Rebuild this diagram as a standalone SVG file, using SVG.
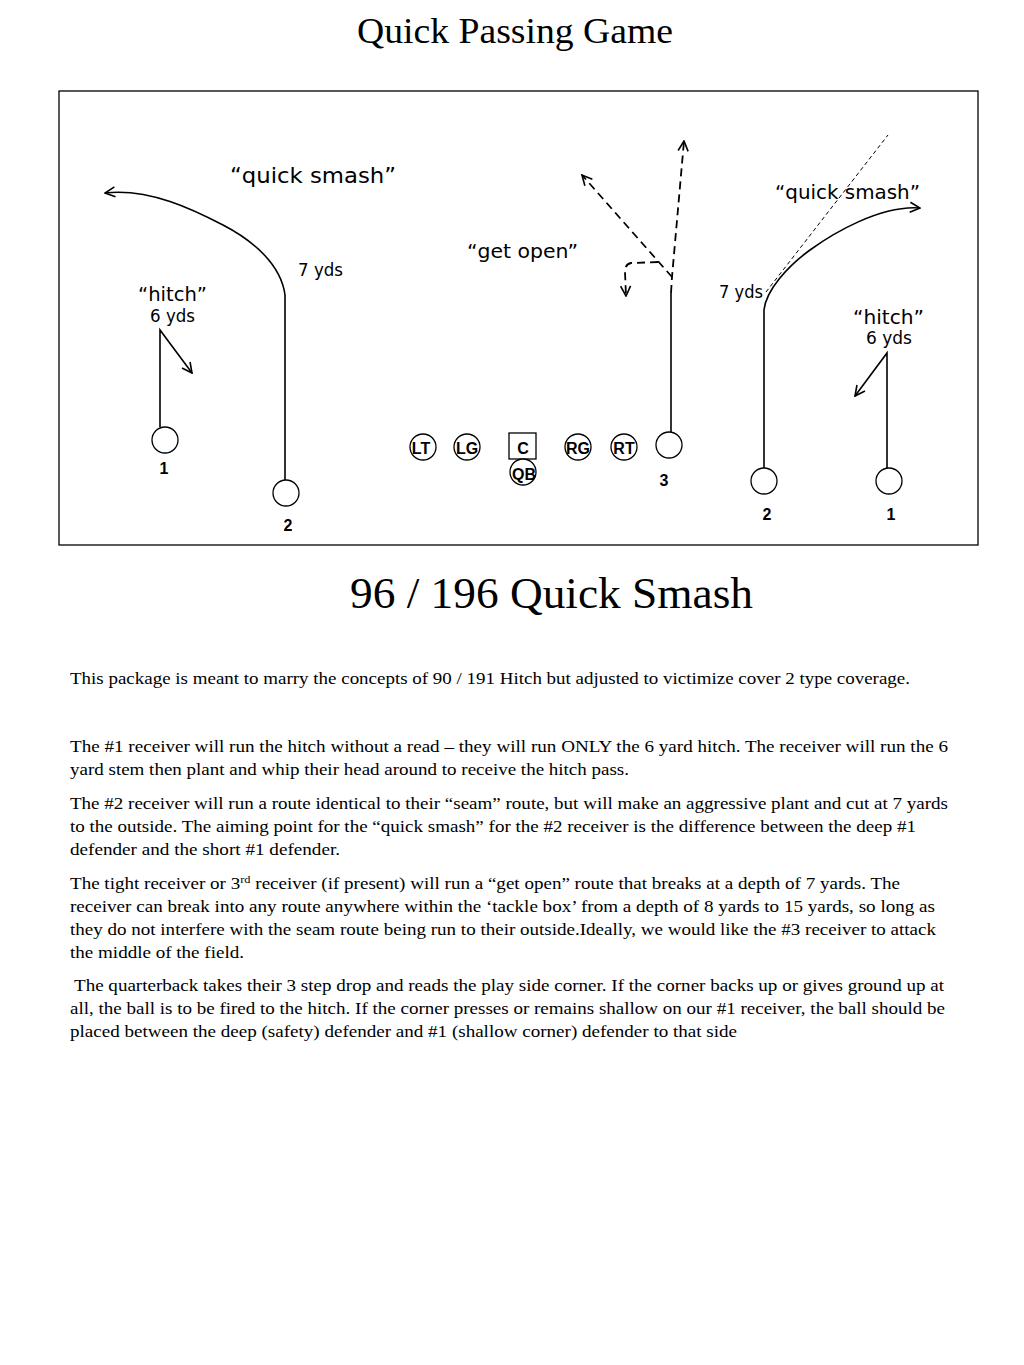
<svg xmlns="http://www.w3.org/2000/svg" width="1024" height="1365" viewBox="0 0 1024 1365">
<style>
.bg{fill:#fff}
.title{font-family:"Liberation Serif","Times New Roman",serif;fill:#000}
.body{font-family:"Liberation Serif","Times New Roman",serif;font-size:17px;fill:#000}
.lbl{font-family:"DejaVu Sans",Verdana,sans-serif;fill:#000}
.num{font-family:"Liberation Sans",Arial,sans-serif;font-weight:bold;font-size:16px;fill:#000;text-anchor:middle}
.pos{font-family:"Liberation Sans",Arial,sans-serif;font-weight:bold;font-size:16px;fill:#000;text-anchor:middle}
.pl{fill:#fff;stroke:#000;stroke-width:1.3}
.rt{fill:none;stroke:#000;stroke-width:1.6}
.ds{fill:none;stroke:#000;stroke-width:1.8;stroke-dasharray:8 5}
.dt{fill:none;stroke:#000;stroke-width:1;stroke-dasharray:4 3}
</style>
<defs>
<marker id="ah" viewBox="0 0 12 12" refX="11" refY="6" markerWidth="12" markerHeight="12" markerUnits="userSpaceOnUse" orient="auto">
<path d="M1,1 L11,6 L1,11" fill="none" stroke="#000" stroke-width="1.6"/>
</marker>
</defs>
<rect class="bg" x="0" y="0" width="1024" height="1365"/>
<text class="title" x="357" y="43" font-size="36" textLength="316" lengthAdjust="spacingAndGlyphs">Quick Passing Game</text>
<rect x="59" y="91" width="919" height="454" fill="none" stroke="#000" stroke-width="1.3"/>

<g id="labels">
<text class="lbl" x="230" y="183" font-size="22" textLength="166" lengthAdjust="spacingAndGlyphs">“quick smash”</text>
<text class="lbl" x="298" y="276" font-size="17" textLength="45" lengthAdjust="spacingAndGlyphs">7 yds</text>
<text class="lbl" x="138" y="301" font-size="20" textLength="69" lengthAdjust="spacingAndGlyphs">“hitch”</text>
<text class="lbl" x="150" y="322" font-size="17" textLength="45" lengthAdjust="spacingAndGlyphs">6 yds</text>
<text class="lbl" x="467" y="258" font-size="20" textLength="111" lengthAdjust="spacingAndGlyphs">“get open”</text>
<text class="lbl" x="775" y="199" font-size="20" textLength="145" lengthAdjust="spacingAndGlyphs">“quick smash”</text>
<text class="lbl" x="719" y="298" font-size="17" textLength="44" lengthAdjust="spacingAndGlyphs">7 yds</text>
<text class="lbl" x="853" y="324" font-size="20" textLength="71" lengthAdjust="spacingAndGlyphs">“hitch”</text>
<text class="lbl" x="866" y="344" font-size="17" textLength="46" lengthAdjust="spacingAndGlyphs">6 yds</text>
</g>

<g id="connectors">
<path class="rt" d="M160,427 L160,330 L192,373" marker-end="url(#ah)"/>
<path class="rt" d="M285,480 L285,295 C281,264 252,240 223,225 S150,188 105,193" marker-end="url(#ah)"/>
<path class="rt" d="M671,432 L671,293"/>
<path class="ds" d="M671,293 L672,277 L684,141" marker-end="url(#ah)"/>
<path class="ds" d="M672,277 L582,175" marker-end="url(#ah)"/>
<path class="ds" d="M658,262 L631,263 Q625,264 625,272 L626,296" marker-end="url(#ah)"/>
<path class="rt" d="M764,468 L764,310 C766,290 788,266 810,250 S880,205 920,208" marker-end="url(#ah)"/>
<path class="dt" d="M766,292 L888,135"/>
<path class="rt" d="M887,468 L887,353 L855,396" marker-end="url(#ah)"/>
</g>

<g id="wr1-left"><circle class="pl" cx="165" cy="440" r="13"/><text class="num" x="164" y="474">1</text></g>
<g id="wr2-left"><circle class="pl" cx="286" cy="493" r="13"/><text class="num" x="288" y="531">2</text></g>
<g id="lt"><circle class="pl" cx="423" cy="447" r="13"/><text class="pos" x="421" y="454">LT</text></g>
<g id="lg"><circle class="pl" cx="467" cy="447" r="13"/><text class="pos" x="467" y="454">LG</text></g>
<g id="c"><rect class="pl" x="509" y="433" width="27" height="26"/><text class="pos" x="523" y="454">C</text></g>
<g id="qb"><circle class="pl" cx="523" cy="472" r="13"/><text class="pos" x="524" y="480">QB</text></g>
<g id="rg"><circle class="pl" cx="578" cy="447" r="13"/><text class="pos" x="578" y="454">RG</text></g>
<g id="rt"><circle class="pl" cx="624" cy="447" r="13"/><text class="pos" x="624" y="454">RT</text></g>
<g id="wr3"><circle class="pl" cx="669" cy="445" r="13"/><text class="num" x="664" y="486">3</text></g>
<g id="wr2-right"><circle class="pl" cx="764" cy="481" r="13"/><text class="num" x="767" y="520">2</text></g>
<g id="wr1-right"><circle class="pl" cx="889" cy="481" r="13"/><text class="num" x="891" y="520">1</text></g>

<text class="title" x="350" y="608" font-size="44" textLength="403" lengthAdjust="spacingAndGlyphs">96 / 196 Quick Smash</text>

<g id="text">
<text class="body" x="70" y="684" textLength="840" lengthAdjust="spacingAndGlyphs">This package is meant to marry the concepts of 90 / 191 Hitch but adjusted to victimize cover 2 type coverage.</text>
<text class="body" x="70" y="752" textLength="878" lengthAdjust="spacingAndGlyphs">The #1 receiver will run the hitch without a read – they will run ONLY the 6 yard hitch. The receiver will run the 6</text>
<text class="body" x="70" y="775" textLength="559" lengthAdjust="spacingAndGlyphs">yard stem then plant and whip their head around to receive the hitch pass.</text>
<text class="body" x="70" y="809" textLength="878" lengthAdjust="spacingAndGlyphs">The #2 receiver will run a route identical to their “seam” route, but will make an aggressive plant and cut at 7 yards</text>
<text class="body" x="70" y="832" textLength="846" lengthAdjust="spacingAndGlyphs">to the outside. The aiming point for the “quick smash” for the #2 receiver is the difference between the deep #1</text>
<text class="body" x="70" y="855" textLength="270" lengthAdjust="spacingAndGlyphs">defender and the short #1 defender.</text>
<text class="body" x="70" y="889" textLength="830" lengthAdjust="spacingAndGlyphs">The tight receiver or 3<tspan font-size="11" dy="-6">rd</tspan><tspan dy="6"> receiver (if present) will run a “get open” route that breaks at a depth of 7 yards. The</tspan></text>
<text class="body" x="70" y="912" textLength="865" lengthAdjust="spacingAndGlyphs">receiver can break into any route anywhere within the ‘tackle box’ from a depth of 8 yards to 15 yards, so long as</text>
<text class="body" x="70" y="935" textLength="866" lengthAdjust="spacingAndGlyphs">they do not interfere with the seam route being run to their outside.Ideally, we would like the #3 receiver to attack</text>
<text class="body" x="70" y="958" textLength="174" lengthAdjust="spacingAndGlyphs">the middle of the field.</text>
<text class="body" x="74" y="991" textLength="870" lengthAdjust="spacingAndGlyphs">The quarterback takes their 3 step drop and reads the play side corner. If the corner backs up or gives ground up at</text>
<text class="body" x="70" y="1014" textLength="875" lengthAdjust="spacingAndGlyphs">all, the ball is to be fired to the hitch. If the corner presses or remains shallow on our #1 receiver, the ball should be</text>
<text class="body" x="70" y="1037" textLength="667" lengthAdjust="spacingAndGlyphs">placed between the deep (safety) defender and #1 (shallow corner) defender to that side</text>
</g>
</svg>
